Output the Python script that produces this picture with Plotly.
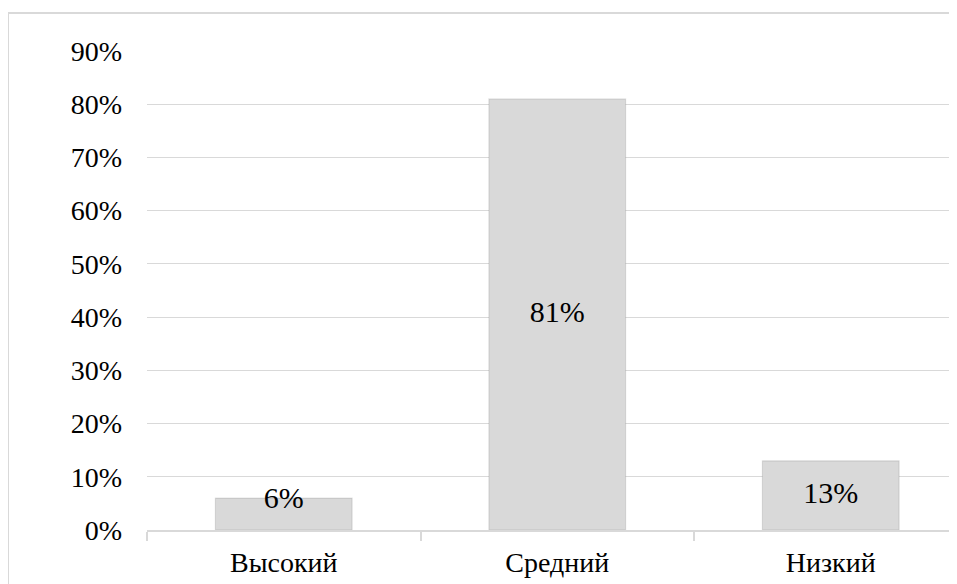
import plotly.graph_objects as go

categories = ["Высокий", "Средний", "Низкий"]
values = [0.06, 0.81, 0.13]
labels = ["6%", "81%", "13%"]
y_ticks = [0, 0.1, 0.2, 0.3, 0.4, 0.5, 0.6, 0.7, 0.8, 0.9]
y_tick_text = ["0%", "10%", "20%", "30%", "40%", "50%", "60%", "70%", "80%", "90%"]

W, H = 957, 584
# the page body has an 8px margin, so the figure starts at (8, 8) on screen
L, B, T = 139, 62, 43
FONT = "Liberation Serif"

fig = go.Figure()
fig.add_trace(go.Bar(
    x=categories, y=values, width=0.5,
    marker=dict(color="#d9d9d9", line=dict(color="rgba(0,0,0,0.10)", width=1.2)),
    hoverinfo="skip",
))
# labels centred in each bar, kept above the axis for the short bar
label_y = [max(v / 2, 0.055) for v in values]
fig.add_trace(go.Scatter(
    x=categories, y=label_y, mode="text", text=labels,
    textfont=dict(family=FONT, size=30, color="#000000"),
    textposition="middle center", hoverinfo="skip",
))

plot_w = W - L
plot_h = H - B - T
cat_w = 273.5
fig.update_layout(
    width=W, height=H,
    margin=dict(l=L, r=0, t=T, b=B),
    paper_bgcolor="white", plot_bgcolor="white",
    showlegend=False,
    font=dict(family=FONT, size=28, color="#000000"),
    xaxis=dict(
        range=[-0.5, -0.5 + plot_w / cat_w],
        showgrid=False, showline=True, linecolor="#d9d9d9", linewidth=1.5,
        ticks="outside", tickson="boundaries", ticklen=9, tickcolor="#d9d9d9", tickwidth=1.5,
        tickfont=dict(family=FONT, size=28, color="#000000"),
        ticklabelstandoff=7,
    ),
    yaxis=dict(
        range=[0, 0.9], tickvals=y_ticks, ticktext=y_tick_text,
        showgrid=True, gridcolor="#d9d9d9", gridwidth=1.2,
        zeroline=False, showline=False, ticks="",
        tickfont=dict(family=FONT, size=28, color="#000000"),
        ticklabelstandoff=24,
    ),
    shapes=[dict(
        type="rect", xref="paper", yref="paper",
        x0=(0 - L) / plot_w, x1=1.05,
        y0=-0.3, y1=(H - B - 5) / plot_h,
        line=dict(color="#d9d9d9", width=2), fillcolor="rgba(0,0,0,0)", layer="below",
    )],
)

fig.write_html("out.html")
